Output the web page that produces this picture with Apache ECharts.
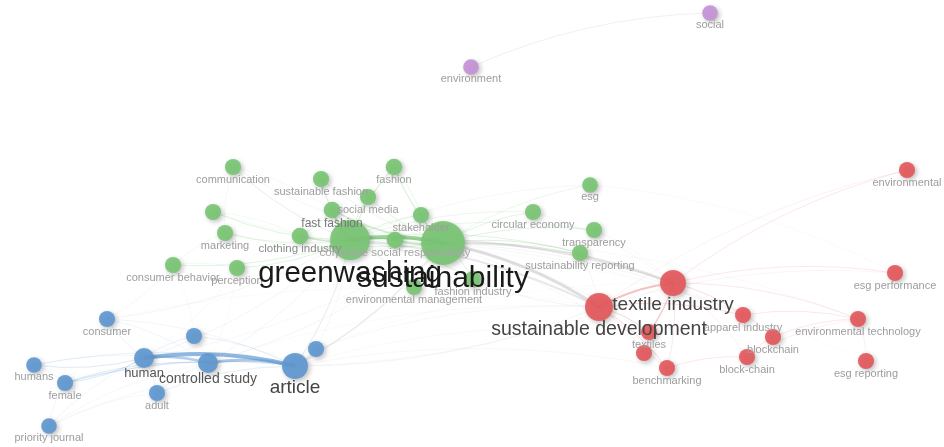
<!DOCTYPE html>
<html>
<head>
<meta charset="utf-8">
<script src="https://cdn.jsdelivr.net/npm/echarts@6/dist/echarts.min.js"></script>
<style>
  html, body { margin: 0; padding: 0; background: #ffffff; }
  #chart { width: 944px; height: 447px; }
</style>
</head>
<body>
<div id="chart"></div>
<script>
// Keyword co-occurrence map: terms, their cluster, map coordinates and occurrences.
const terms = [
  'communication', 'sustainable fashion', 'fashion', 'social media', 'stakeholder',
  'fast fashion', 'clothing industry', 'marketing', 'advertising', 'consumer behavior',
  'perception', 'environmental management', 'fashion industry', 'circular economy', 'esg',
  'transparency', 'sustainability reporting', 'corporate social responsibility',
  'greenwashing', 'sustainability',
  'consumer', 'male', 'questionnaire', 'humans', 'female', 'adult', 'priority journal',
  'human', 'controlled study', 'article',
  'apparel industry', 'textiles', 'supply chain', 'benchmarking', 'blockchain', 'block-chain',
  'environmental technology', 'esg reporting', 'esg performance', 'environmental',
  'sustainable development', 'textile industry',
  'environment', 'social'
];
const clusters = [
  2, 2, 2, 2, 2,
  2, 2, 2, 2, 2,
  2, 2, 2, 2, 2,
  2, 2, 2,
  2, 2,
  3, 3, 3, 3, 3, 3, 3,
  3, 3, 3,
  1, 1, 1, 1, 1, 1,
  1, 1, 1, 1,
  1, 1,
  4, 4
];
const mapX = [
  -2.37, -1.49, -0.76, -1.02, -0.49,
  -1.38, -1.70, -2.45, -2.57, -2.97,
  -2.33, -0.56, 0.03, 0.63, 1.20,
  1.24, 1.10, -0.75,
  -1.20, -0.27,
  -3.63, -2.76, -1.54, -4.36, -4.05, -3.13, -4.21,
  -3.26, -2.62, -1.75,
  2.73, 1.79, 1.74, 1.97, 3.03, 2.77,
  3.88, 3.96, 4.25, 4.37,
  1.29, 2.03,
  0.01, 2.40
];
const mapY = [
  -0.53, -0.41, -0.53, -0.23, -0.05,
  -0.10, 0.16, 0.13, -0.08, 0.45,
  0.48, 0.67, 0.59, -0.08, -0.35,
  0.10, 0.33, 0.20,
  0.20, 0.23,
  0.99, 1.16, 1.29, 1.45, 1.63, 1.73, 2.06,
  1.38, 1.43, 1.46,
  0.95, 1.12, 1.33, 1.48, 1.17, 1.37,
  0.99, 1.41, 0.53, -0.50,
  0.87, 0.63,
  -1.53, -2.07
];
const occurrences = [
  10, 10, 11, 10, 10,
  11, 11, 10, 10, 10,
  10, 10, 10, 10, 9,
  10, 10, 11,
  112, 140,
  10, 10, 10, 9, 10, 10, 9,
  19, 19, 39,
  10, 10, 10, 10, 10, 10,
  10, 10, 10, 10,
  47, 39,
  9, 9
];
// Terms whose labels are hidden in the map because of overlap.
const hiddenLabels = ['advertising', 'male', 'questionnaire', 'supply chain'];

// Co-occurrence links: [term, term, link strength]
const links = [
  ['greenwashing', 'sustainability', 4],
  ['human', 'article', 4],
  ['controlled study', 'article', 3],
  ['human', 'controlled study', 2.5],
  ['sustainability', 'sustainable development', 3],
  ['sustainability', 'textile industry', 2.5],
  ['greenwashing', 'sustainable development', 2],
  ['greenwashing', 'textile industry', 1.5],
  ['sustainable development', 'textile industry', 2],

  ['greenwashing', 'communication', 1], ['greenwashing', 'sustainable fashion', 1],
  ['greenwashing', 'fashion', 1.2], ['greenwashing', 'social media', 1],
  ['greenwashing', 'stakeholder', 1], ['greenwashing', 'fast fashion', 2],
  ['greenwashing', 'clothing industry', 1.5], ['greenwashing', 'corporate social responsibility', 2],
  ['greenwashing', 'marketing', 1], ['greenwashing', 'advertising', 1],
  ['greenwashing', 'consumer behavior', 1], ['greenwashing', 'perception', 1],
  ['greenwashing', 'environmental management', 1], ['greenwashing', 'fashion industry', 1],
  ['greenwashing', 'circular economy', 0.8], ['greenwashing', 'esg', 0.6],
  ['greenwashing', 'transparency', 0.8], ['greenwashing', 'sustainability reporting', 1],
  ['sustainability', 'fashion', 1.2], ['sustainability', 'fast fashion', 1.5],
  ['sustainability', 'social media', 1], ['sustainability', 'stakeholder', 1],
  ['sustainability', 'corporate social responsibility', 2], ['sustainability', 'circular economy', 1],
  ['sustainability', 'esg', 0.8], ['sustainability', 'transparency', 1],
  ['sustainability', 'sustainability reporting', 1.2], ['sustainability', 'fashion industry', 1],
  ['sustainability', 'environmental management', 1], ['sustainability', 'clothing industry', 1],
  ['sustainability', 'communication', 0.6], ['sustainability', 'sustainable fashion', 0.8],
  ['sustainability', 'marketing', 0.6], ['sustainability', 'advertising', 0.6],
  ['fast fashion', 'clothing industry', 1], ['fast fashion', 'sustainable fashion', 0.8],
  ['fashion', 'stakeholder', 0.8], ['marketing', 'communication', 0.6],
  ['consumer behavior', 'perception', 0.6], ['consumer behavior', 'marketing', 0.6],
  ['advertising', 'clothing industry', 0.6], ['communication', 'fast fashion', 0.6],

  ['greenwashing', 'article', 1.2], ['sustainability', 'article', 1.5],
  ['greenwashing', 'human', 0.8], ['greenwashing', 'consumer', 0.8],
  ['greenwashing', 'controlled study', 0.8], ['sustainability', 'controlled study', 0.8],
  ['sustainability', 'human', 0.6], ['greenwashing', 'questionnaire', 0.6],
  ['consumer behavior', 'consumer', 0.6], ['perception', 'human', 0.5],
  ['consumer behavior', 'male', 0.5], ['perception', 'controlled study', 0.5],
  ['sustainability', 'benchmarking', 0.6], ['sustainability', 'apparel industry', 0.8],
  ['greenwashing', 'apparel industry', 0.6], ['sustainability', 'textiles', 0.6],
  ['sustainable development', 'article', 0.8], ['textile industry', 'article', 0.6],
  ['article', 'benchmarking', 0.6], ['questionnaire', 'sustainable development', 0.6],
  ['article', 'textiles', 0.5],
  ['sustainability reporting', 'sustainable development', 0.8], ['circular economy', 'textile industry', 0.6],
  ['transparency', 'textile industry', 0.6], ['esg', 'esg performance', 0.5],
  ['sustainable development', 'fashion industry', 0.8], ['greenwashing', 'esg reporting', 0.4],
  ['sustainability', 'environmental technology', 0.5], ['consumer', 'sustainable development', 0.4],
  ['controlled study', 'sustainable development', 0.5], ['questionnaire', 'textile industry', 0.4],

  ['human', 'consumer', 0.8], ['human', 'humans', 1], ['human', 'female', 1],
  ['human', 'adult', 0.8], ['human', 'male', 0.8], ['humans', 'female', 0.6],
  ['female', 'article', 1.2], ['female', 'controlled study', 1], ['adult', 'article', 0.8],
  ['adult', 'controlled study', 0.6], ['priority journal', 'female', 0.6],
  ['priority journal', 'human', 0.6], ['priority journal', 'article', 0.5],
  ['priority journal', 'adult', 0.5], ['humans', 'article', 0.8], ['consumer', 'article', 0.6],
  ['consumer', 'controlled study', 0.6], ['male', 'article', 0.8], ['questionnaire', 'article', 0.8],
  ['male', 'controlled study', 0.6], ['humans', 'controlled study', 0.6],
  ['priority journal', 'controlled study', 0.5],

  ['textile industry', 'environmental', 0.8], ['textile industry', 'esg performance', 0.8],
  ['textile industry', 'environmental technology', 0.8], ['textile industry', 'apparel industry', 1],
  ['textile industry', 'textiles', 1.5], ['sustainable development', 'textiles', 1],
  ['sustainable development', 'supply chain', 0.8], ['sustainable development', 'benchmarking', 1],
  ['textile industry', 'benchmarking', 0.8], ['benchmarking', 'block-chain', 0.8],
  ['block-chain', 'blockchain', 0.8], ['blockchain', 'environmental technology', 0.8],
  ['apparel industry', 'blockchain', 0.8], ['apparel industry', 'environmental technology', 0.8],
  ['environmental technology', 'esg reporting', 0.6], ['sustainable development', 'apparel industry', 1],
  ['textiles', 'supply chain', 0.6], ['supply chain', 'benchmarking', 0.6],
  ['block-chain', 'environmental technology', 0.6], ['sustainable development', 'environmental', 0.6],
  ['textile industry', 'block-chain', 0.6], ['sustainable development', 'esg performance', 0.5],

  ['environment', 'social', 1]
];

// ---- styling ----
const clusterColor = {
  1: [228, 88, 92],
  2: [120, 198, 116],
  3: [96, 152, 208],
  4: [196, 146, 214]
};
const rgba = (c, a) => `rgba(${c[0]},${c[1]},${c[2]},${a})`;

const labelTier = {
  'greenwashing': { size: 29.5, color: '#1a1a1a' },
  'sustainability': { size: 30, color: '#1a1a1a' },
  'article': { size: 19, color: '#444' },
  'sustainable development': { size: 19.5, color: '#444' },
  'textile industry': { size: 19, color: '#444' },
  'human': { size: 13, color: '#555' },
  'controlled study': { size: 14, color: '#555' },
  'fast fashion': { size: 12, color: '#777' },
  'clothing industry': { size: 11.5, color: '#8a8a8a' },
  'corporate social responsibility': { size: 11.5, color: '#a5a5a5' }
};

const nodeSize = occ => 6 + 3.2 * Math.sqrt(occ);

const nodes = terms.map((name, i) => {
  const tier = labelTier[name] || { size: 11, color: '#9d9d9d' };
  const col = clusterColor[clusters[i]];
  return {
    name,
    x: mapX[i],
    y: mapY[i],
    value: occurrences[i],
    symbolSize: nodeSize(occurrences[i]),
    itemStyle: {
      color: rgba(col, 0.92),
      shadowBlur: 5,
      shadowColor: 'rgba(0,0,0,0.28)',
      shadowOffsetX: 2,
      shadowOffsetY: 2
    },
    label: {
      show: hiddenLabels.indexOf(name) < 0,
      position: 'bottom',
      distance: -1,
      fontSize: tier.size,
      color: tier.color,
      fontFamily: 'Liberation Sans, Arial, sans-serif'
    }
  };
});

const clusterOf = name => clusters[terms.indexOf(name)];

// Link colour follows the cluster when both ends share it, grey otherwise;
// opacity grows with link strength.
const edges = links.map(([s, t, w]) => {
  const cs = clusterOf(s), ct = clusterOf(t);
  let color;
  if (cs === ct && cs !== 4) {
    color = rgba(clusterColor[cs], Math.min(0.85, 0.05 + 0.16 * w));
  } else {
    color = `rgba(150,150,150,${Math.min(0.45, 0.06 + 0.08 * w)})`;
  }
  return {
    source: s,
    target: t,
    value: w,
    lineStyle: { width: w, color, opacity: 1, curveness: 0.1 }
  };
});

const chart = echarts.init(document.getElementById('chart'), null, { renderer: 'canvas' });
chart.setOption({
  backgroundColor: '#ffffff',
  animation: false,
  series: [{
    type: 'graph',
    layout: 'none',
    roam: false,
    left: 34,
    top: 13,
    width: 873,
    height: 413,
    data: nodes,
    links: edges,
    lineStyle: { opacity: 1 },
    emphasis: { disabled: true },
    labelLayout: { hideOverlap: false }
  }]
});
</script>
</body>
</html>
